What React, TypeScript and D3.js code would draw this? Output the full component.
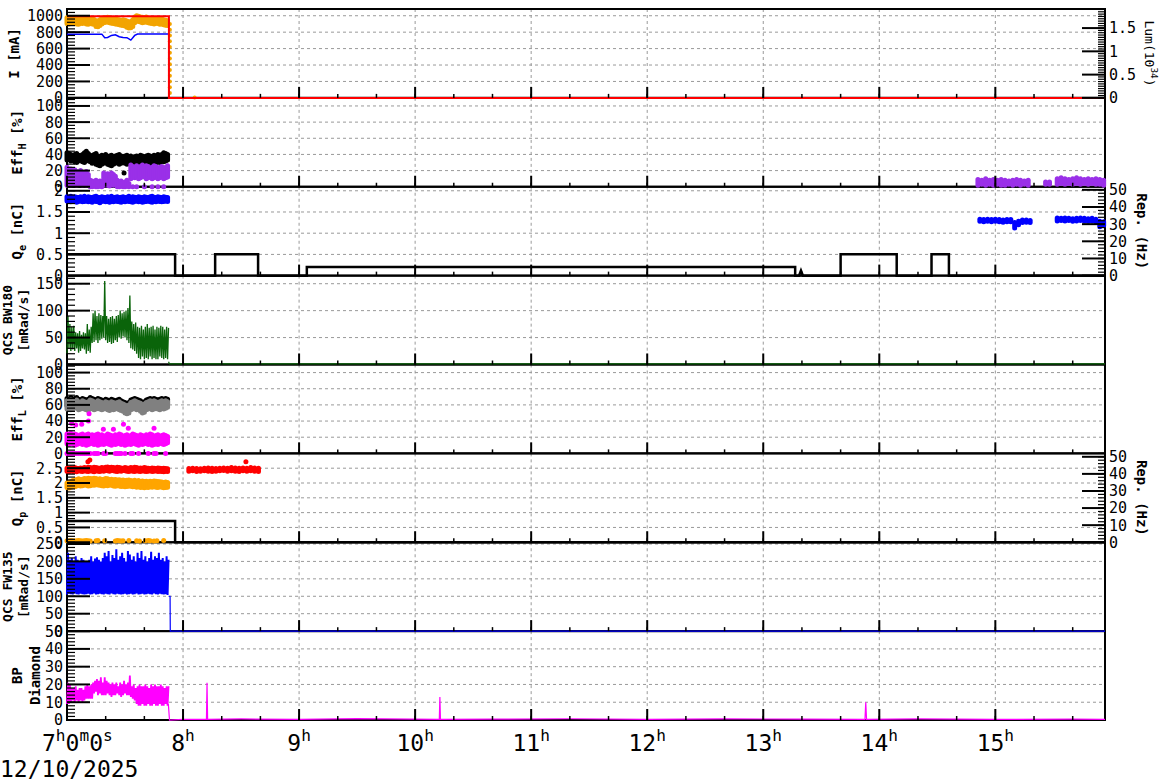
import React, { useEffect, useRef } from "react";
import * as d3 from "d3";

type Seg = { t: string; sub?: boolean; sup?: boolean };
type Axis = { dom: [number, number]; ticks: number[]; minor: number; title: Seg[]; bold: boolean };
type Panel = {
  dom: [number, number];
  ticks: number[];
  minor: number;
  title: Seg[][];
  titleX: number[];
  titleSize: number;
  right?: Axis;
};

const W = 1172;
const H = 782;
const X0 = 67;
const X1 = 1105;
const Y0 = 9;
const Y1 = 720;
const T_END = 536.7; // minutes after 7:00:00

// x axis
const hourTicks = [0, 60, 120, 180, 240, 300, 360, 420, 480];
const hourLabels = ["8", "9", "10", "11", "12", "13", "14", "15"];

// samples during beam (minutes after 7:00)
const beamMin = [
  0, 1, 2, 3, 4, 5, 6, 7, 8, 9, 10, 11, 12, 13, 14, 15, 16, 17, 18, 19, 20, 21, 22, 23, 24, 25, 26,
  27, 28, 29, 30, 31, 32, 33, 34, 35, 36, 37, 38, 39, 40, 41, 42, 43, 44, 45, 46, 47, 48, 49, 50, 51, 52,
];

// panel 1: currents
const curOrangeLo = [
  905, 900, 910, 915, 905, 900, 895, 910, 905, 915, 900, 895, 905, 900, 895, 870, 865, 880, 900, 915,
  920, 925, 915, 910, 905, 900, 895, 890, 885, 880, 875, 860, 850, 855, 870, 915, 935, 930, 925, 915,
  920, 925, 915, 910, 905, 900, 910, 905, 895, 900, 890, 885, 880,
];
const curOrangeHi = [
  975, 965, 960, 970, 975, 960, 965, 955, 970, 965, 960, 975, 965, 960, 955, 940, 935, 950, 970, 975,
  970, 980, 975, 965, 970, 960, 955, 950, 945, 950, 945, 935, 925, 930, 950, 985, 1000, 995, 985, 980,
  975, 985, 970, 965, 970, 960, 965, 960, 955, 960, 950, 945, 940,
];
const orangeDropT = [53.2, 53.2, 53.2, 53.2, 53.2, 53.2, 53.2, 53.2, 53.2, 53.2, 53.2, 53.2, 53.2, 66];
const orangeDropV = [900, 830, 760, 690, 620, 550, 480, 410, 340, 270, 200, 130, 60, 5];
const redT = [0, 52.7, 52.7, 536.7];
const redV = [995, 995, 0, 0];
const blueCurT = [0, 18, 19.5, 21, 23, 25, 27, 29, 31, 33, 35, 36.5, 52.6, 52.7, 536.7];
const blueCurV = [776, 776, 732, 736, 760, 768, 745, 735, 733, 703, 760, 778, 778, 0, 0];

// panel 2: Eff_H
const effHBlackLo = [
  33, 34, 32, 33, 31, 30, 32, 33, 31, 30, 32, 33, 31, 29, 30, 28, 27, 26, 28, 29, 30, 28, 27, 26, 28,
  29, 30, 28, 29, 30, 29, 28, 30, 31, 29, 28, 30, 29, 28, 30, 29, 31, 30, 29, 28, 30, 29, 31, 30, 32,
  31, 32, 33,
];
const effHBlackHi = [
  42, 41, 40, 38, 40, 41, 39, 38, 40, 42, 44, 41, 39, 38, 40, 41, 38, 37, 39, 38, 40, 37, 38, 39, 37,
  38, 39, 40, 38, 37, 38, 39, 37, 38, 36, 37, 38, 37, 39, 38, 37, 38, 39, 38, 37, 39, 38, 40, 39, 40,
  42, 41, 40,
];
const effHPurpleLo = [
  2, 3, 2, 4, 3, 2, 3, 4, 2, 3, 2, 3, 0, 0, 1, 0, 0, 1, 0, 2, 3, 2, 1, 3, 2, 3, 0, 0, 1, 0, 0, 1, 0, 10,
  12, 11, 12, 10, 11, 13, 12, 10, 11, 12, 10, 11, 12, 10, 11, 12, 10, 11, 12,
];
const effHPurpleHi = [
  24, 20, 22, 18, 21, 19, 17, 20, 18, 16, 19, 15, 8, 7, 6, 8, 5, 7, 6, 17, 15, 16, 14, 17, 15, 13, 8, 6,
  7, 5, 6, 8, 4, 27, 25, 24, 26, 23, 25, 27, 24, 26, 25, 23, 24, 26, 25, 22, 24, 25, 23, 24, 26,
];
const purpleZeroT = [34, 36, 40, 44, 47, 50];
const purpleZeroV = [0, 0, 0, 0, 0, 0];
const lateT = [
  471, 473, 475, 477, 479, 481, 483, 485, 487, 489, 491, 493, 495, 497, 506, 508, 512, 514, 516, 518,
  520, 522, 524, 526, 528, 530, 532, 534, 536,
];
const effHLateLo = [2, 3, 2, 3, 2, 3, 2, 2, 3, 2, 3, 2, 3, 2, 3, 3, 3, 4, 3, 4, 3, 4, 3, 4, 3, 4, 3, 3, 2];
const effHLateHi = [9, 8, 10, 8, 9, 8, 9, 8, 7, 8, 9, 8, 7, 8, 6, 6, 10, 11, 10, 9, 10, 11, 10, 9, 10, 9, 10, 9, 8];
const effHBlackOutT = [29.5];
const effHBlackOutV = [17];

// panel 3: Q_e and rep rate
const qeLo = [
  1.76, 1.75, 1.74, 1.76, 1.75, 1.73, 1.75, 1.76, 1.74, 1.75, 1.76, 1.74, 1.75, 1.73, 1.76, 1.75, 1.74,
  1.72, 1.75, 1.76, 1.74, 1.75, 1.73, 1.75, 1.74, 1.76, 1.75, 1.74, 1.73, 1.75, 1.74, 1.76, 1.75, 1.74,
  1.73, 1.75, 1.76, 1.74, 1.75, 1.73, 1.74, 1.75, 1.76, 1.74, 1.73, 1.75, 1.74, 1.76, 1.75, 1.74, 1.75,
  1.76, 1.75,
];
const qeHi = [
  1.86, 1.85, 1.87, 1.84, 1.86, 1.85, 1.84, 1.86, 1.85, 1.87, 1.84, 1.86, 1.85, 1.84, 1.86, 1.87, 1.85,
  1.84, 1.86, 1.85, 1.84, 1.86, 1.85, 1.87, 1.84, 1.85, 1.86, 1.84, 1.85, 1.86, 1.84, 1.85, 1.87, 1.84,
  1.86, 1.85, 1.84, 1.86, 1.85, 1.84, 1.86, 1.85, 1.84, 1.86, 1.87, 1.85, 1.84, 1.86, 1.85, 1.84, 1.86,
  1.85, 1.84,
];
const qeLateT = [
  472, 474, 476, 478, 480, 482, 484, 486, 488, 490, 492, 494, 496, 498, 512, 514, 516, 518, 520, 522,
  524, 526, 528, 530, 532, 534, 536,
];
const qeLateLo = [
  1.28, 1.27, 1.28, 1.27, 1.28, 1.27, 1.26, 1.27, 1.27, 1.12, 1.2, 1.25, 1.26, 1.25, 1.29, 1.3, 1.29,
  1.3, 1.28, 1.29, 1.3, 1.29, 1.28, 1.29, 1.27, 1.15, 1.18,
];
const qeLateHi = [
  1.33, 1.32, 1.33, 1.32, 1.33, 1.32, 1.31, 1.32, 1.32, 1.25, 1.28, 1.31, 1.31, 1.3, 1.36, 1.35, 1.36,
  1.35, 1.34, 1.35, 1.36, 1.35, 1.34, 1.35, 1.33, 1.28, 1.27,
];
const repET = [
  0, 55.9, 55.9, 76.6, 76.6, 98.8, 98.8, 124, 124, 376.5, 376.5, 378.5, 379.5, 380.5, 400, 400, 429,
  429, 447, 447, 456, 456, 536.7,
];
const repEV = [12.5, 12.5, 0, 0, 12.5, 12.5, 0, 0, 5, 5, 0, 0, 3, 0, 0, 12.5, 12.5, 0, 0, 12.5, 12.5, 0, 0];

// panel 4: QCS BW180
const bwLo = [
  20, 30, 25, 28, 25, 30, 22, 25, 30, 28, 20, 25, 22, 40, 42, 45, 40, 45, 48, 50, 45, 40, 42, 38, 40,
  45, 42, 50, 48, 52, 50, 45, 40, 30, 28, 25, 20, 12, 10, 15, 10, 12, 10, 15, 10, 12, 10, 10, 15, 12,
  10, 12, 10,
];
const bwHi = [
  90, 75, 70, 72, 60, 58, 62, 55, 60, 58, 75, 65, 70, 95, 100, 90, 95, 92, 90, 155, 90, 85, 88, 90, 85,
  90, 92, 100, 95, 98, 100, 105, 128, 80, 75, 78, 70, 68, 72, 65, 70, 75, 68, 70, 72, 65, 70, 68, 72,
  70, 65, 70, 68,
];
const bwTailT = [52.5, 53, 536.7];
const bwTailV = [5, 1, 1];

// panel 5: Eff_L
const effLBlackLo = [
  59, 60, 58, 59, 61, 60, 58, 59, 60, 59, 58, 57, 59, 60, 58, 59, 60, 59, 58, 59, 60, 58, 57, 59, 58,
  59, 60, 58, 57, 56, 54, 53, 54, 58, 59, 60, 58, 59, 56, 54, 55, 58, 59, 60, 58, 59, 60, 59, 58, 60,
  59, 60, 61,
];
const effLBlackHi = [
  68, 67, 69, 66, 68, 69, 67, 66, 68, 67, 66, 67, 69, 68, 67, 66, 68, 67, 66, 65, 67, 66, 65, 67, 66,
  65, 66, 67, 65, 64, 63, 61, 63, 66, 67, 68, 67, 66, 65, 63, 64, 66, 67, 68, 67, 68, 67, 66, 67, 68,
  67, 68, 67,
];
const effLGrayLo = [
  55, 56, 54, 55, 57, 56, 54, 55, 56, 55, 54, 53, 55, 56, 54, 55, 56, 55, 54, 55, 56, 54, 53, 55, 54,
  55, 56, 54, 53, 52, 50, 49, 50, 54, 55, 56, 54, 55, 52, 50, 51, 54, 55, 56, 54, 55, 56, 55, 54, 56,
  55, 56, 57,
];
const effLGrayHi = [
  65, 64, 66, 63, 65, 66, 64, 63, 65, 64, 63, 64, 66, 65, 64, 63, 65, 64, 63, 62, 64, 63, 62, 64, 63,
  62, 63, 64, 62, 61, 60, 58, 60, 63, 64, 65, 64, 63, 62, 60, 61, 63, 64, 65, 64, 65, 64, 63, 64, 65,
  64, 65, 64,
];
const effLMagLo = [
  12, 11, 13, 12, 10, 11, 12, 13, 11, 12, 10, 11, 12, 13, 11, 12, 10, 11, 12, 11, 13, 12, 11, 10, 12,
  11, 12, 13, 11, 12, 10, 11, 12, 11, 13, 12, 11, 10, 12, 11, 12, 13, 11, 12, 10, 11, 12, 11, 13, 12,
  11, 12, 13,
];
const effLMagHi = [
  24, 23, 25, 22, 24, 23, 21, 23, 24, 22, 23, 24, 22, 23, 21, 23, 24, 22, 23, 21, 22, 24, 23, 22, 21,
  23, 22, 24, 23, 21, 22, 23, 21, 22, 24, 23, 22, 21, 23, 22, 21, 23, 22, 24, 23, 21, 22, 23, 21, 22,
  23, 22, 21,
];
const effLMagOutT = [2.4, 4.5, 7.6, 11.1, 11.4, 18.8, 24, 29.2, 31.7, 45];
const effLMagOutV = [37, 35, 36, 40, 49, 30, 30, 36, 31, 31];
const effLMagZeroT = [
  0, 1, 2, 3, 4, 5, 6, 7, 8, 9, 10, 11, 12, 14, 15, 16, 19, 20, 25, 26, 27, 28, 30, 33, 34, 37, 42, 45,
  46, 51,
];
const effLMagZeroV = [
  0, 0, 0, 0, 0, 0, 0, 0, 0, 0, 0, 0, 0, 0, 0, 0, 0, 0, 0, 0, 0, 0, 0, 0, 0, 0, 0, 0, 0, 0,
];

// panel 6: Q_p and rep rate
const qpRedLo = [
  2.4, 2.38, 2.41, 2.39, 2.4, 2.38, 2.41, 2.4, 2.39, 2.41, 2.4, 2.39, 2.41, 2.4, 2.38, 2.41, 2.4, 2.39,
  2.41, 2.4, 2.42, 2.41, 2.4, 2.42, 2.41, 2.4, 2.39, 2.41, 2.4, 2.42, 2.41, 2.4, 2.39, 2.41, 2.4, 2.39,
  2.41, 2.4, 2.39, 2.41, 2.4, 2.39, 2.4, 2.41, 2.39, 2.4, 2.41, 2.39, 2.4, 2.39, 2.38, 2.4, 2.39,
];
const qpRedHi = [
  2.5, 2.49, 2.51, 2.5, 2.52, 2.5, 2.49, 2.51, 2.5, 2.52, 2.51, 2.53, 2.52, 2.51, 2.53, 2.52, 2.51, 2.5,
  2.52, 2.51, 2.53, 2.54, 2.52, 2.53, 2.52, 2.51, 2.53, 2.52, 2.51, 2.5, 2.52, 2.51, 2.5, 2.52, 2.51,
  2.53, 2.52, 2.5, 2.51, 2.5, 2.52, 2.51, 2.5, 2.49, 2.51, 2.5, 2.49, 2.51, 2.5, 2.49, 2.5, 2.49, 2.48,
];
const qpRedOutT = [10.8, 11.8, 92.5];
const qpRedOutV = [2.72, 2.78, 2.72];
const qpRed2T = [63, 65, 67, 69, 71, 73, 75, 77, 79, 81, 83, 85, 87, 89, 91, 93, 95, 97, 99];
const qpRed2Lo = [
  2.4, 2.41, 2.39, 2.4, 2.41, 2.4, 2.39, 2.4, 2.41, 2.42, 2.4, 2.41, 2.4, 2.39, 2.41, 2.4, 2.41, 2.4, 2.39,
];
const qpRed2Hi = [
  2.49, 2.5, 2.49, 2.48, 2.5, 2.51, 2.5, 2.49, 2.5, 2.51, 2.5, 2.52, 2.51, 2.5, 2.51, 2.5, 2.52, 2.51, 2.5,
];
const qpOrangeLo = [
  1.85, 1.83, 1.86, 1.88, 1.87, 1.9, 1.92, 1.9, 1.91, 1.93, 1.92, 1.9, 1.91, 1.93, 1.92, 1.94, 1.93,
  1.92, 1.91, 1.9, 1.92, 1.91, 1.93, 1.92, 1.9, 1.89, 1.91, 1.9, 1.88, 1.89, 1.87, 1.88, 1.9, 1.89,
  1.87, 1.88, 1.86, 1.87, 1.85, 1.86, 1.84, 1.86, 1.85, 1.87, 1.86, 1.88, 1.86, 1.85, 1.87, 1.86, 1.84,
  1.85, 1.86,
];
const qpOrangeHi = [
  2.0, 2.02, 2.05, 2.08, 2.1, 2.12, 2.14, 2.12, 2.13, 2.15, 2.14, 2.16, 2.15, 2.14, 2.16, 2.15, 2.13,
  2.14, 2.12, 2.13, 2.15, 2.14, 2.12, 2.13, 2.11, 2.12, 2.1, 2.11, 2.09, 2.1, 2.08, 2.09, 2.1, 2.08,
  2.07, 2.09, 2.06, 2.08, 2.05, 2.07, 2.05, 2.06, 2.04, 2.06, 2.05, 2.07, 2.06, 2.05, 2.04, 2.03, 2.02,
  2.03, 2.02,
];
const qpOrangeLowT = [
  0, 1, 2, 3, 4, 5, 6, 7, 8, 9, 10, 11, 12, 15, 16, 19.5, 25, 26, 27, 28, 29, 32, 36, 37.5, 40.5, 42,
  43, 45, 46.5, 50,
];
const qpOrangeLowV = [
  0.05, 0.04, 0.06, 0.05, 0.04, 0.05, 0.06, 0.05, 0.04, 0.05, 0.06, 0.05, 0.04, 0.05, 0.06, 0.05, 0.04,
  0.06, 0.05, 0.04, 0.05, 0.06, 0.05, 0.04, 0.05, 0.06, 0.05, 0.04, 0.05, 0.06,
];
const repPT = [0, 55.9, 55.9, 536.7];
const repPV = [12.5, 12.5, 0, 0];

// panel 7: QCS FW135
const fwLo = [
  105, 107, 106, 105, 108, 106, 105, 107, 106, 105, 106, 107, 105, 106, 108, 105, 106, 107, 106, 105,
  107, 106, 105, 108, 106, 105, 107, 106, 105, 106, 107, 105, 106, 107, 105, 106, 108, 105, 106, 107,
  105, 106, 107, 106, 105, 108, 106, 105, 107, 106, 105, 106, 104,
];
const fwHi = [
  225, 205, 210, 200, 215, 205, 200, 210, 205, 200, 198, 205, 215, 200, 208, 212, 205, 200, 210, 225,
  215, 230, 200, 218, 210, 235, 205, 215, 225, 210, 200, 230, 220, 205, 215, 200, 225, 210, 230, 205,
  215, 200, 210, 228, 205, 215, 210, 225, 205, 210, 200, 215, 205,
];
const fwTailT = [52.5, 53.3, 53.4, 536.7];
const fwTailV = [100, 100, 0, 0];

// panel 8: BP diamond
const bpLo = [
  9, 9, 10, 11, 10, 11, 10, 11, 10, 11, 12, 12, 12, 12, 15, 16, 14, 15, 14, 14, 14, 15, 14, 13, 14, 14,
  15, 14, 13, 14, 15, 14, 14, 13, 12, 11, 9, 8, 8, 9, 8, 8, 9, 8, 8, 9, 8, 8, 9, 8, 8, 9, 8,
];
const bpHi = [
  21, 20, 18, 18, 19, 17, 18, 18, 17, 19, 20, 19, 20, 21, 22, 23, 22, 24, 21, 24, 22, 21, 20, 21, 20,
  21, 19, 21, 20, 22, 20, 21, 25, 19, 20, 18, 19, 20, 19, 19, 20, 19, 18, 20, 19, 20, 19, 19, 20, 19,
  18, 19, 19,
];
const bpTailT = [
  52.4, 53, 60, 72.1, 72.4, 72.7, 90, 120, 150, 192.5, 192.8, 193.1, 220, 260, 300, 340, 380, 412.6,
  413, 413.4, 440, 480, 520, 536.7,
];
const bpTailV = [9, 0, 0.4, 0.4, 21, 0.4, 0.6, 0.3, 0.8, 0.4, 13, 0.4, 0.5, 0.7, 0.3, 0.6, 0.5, 0.4, 10, 0.4, 0.6, 0.3, 0.5, 0.4];

const rep: Seg[] = [{ t: "Rep. (Hz)" }];

const panels: Panel[] = [
  {
    dom: [0, 1082], ticks: [0, 200, 400, 600, 800, 1000], minor: 40,
    title: [[{ t: "I [mA]" }]], titleX: [19], titleSize: 14,
    right: { dom: [0, 1.91], ticks: [0, 0.5, 1, 1.5], minor: 0.05, title: [{ t: "Lum(10" }, { t: "34", sup: true }, { t: ")" }], bold: false },
  },
  { dom: [0, 110], ticks: [0, 20, 40, 60, 80, 100], minor: 4, title: [[{ t: "Eff" }, { t: "H", sub: true }, { t: " [%]" }]], titleX: [22], titleSize: 14 },
  {
    dom: [0, 2.095], ticks: [0, 0.5, 1, 1.5, 2], minor: 0.1,
    title: [[{ t: "Q" }, { t: "e", sub: true }, { t: " [nC]" }]], titleX: [22], titleSize: 14,
    right: { dom: [0, 51.8], ticks: [0, 10, 20, 30, 40, 50], minor: 2, title: rep, bold: true },
  },
  { dom: [0, 165], ticks: [0, 50, 100, 150], minor: 10, title: [[{ t: "QCS BW180" }], [{ t: "[mRad/s]" }]], titleX: [12, 28], titleSize: 13 },
  { dom: [0, 110], ticks: [0, 20, 40, 60, 80, 100], minor: 4, title: [[{ t: "Eff" }, { t: "L", sub: true }, { t: " [%]" }]], titleX: [22], titleSize: 14 },
  {
    dom: [0, 3.0], ticks: [0, 0.5, 1, 1.5, 2, 2.5], minor: 0.1,
    title: [[{ t: "Q" }, { t: "p", sub: true }, { t: " [nC]" }]], titleX: [22], titleSize: 14,
    right: { dom: [0, 52], ticks: [0, 10, 20, 30, 40, 50], minor: 2, title: rep, bold: true },
  },
  { dom: [0, 255], ticks: [0, 50, 100, 150, 200, 250], minor: 10, title: [[{ t: "QCS FW135" }], [{ t: "[mRad/s]" }]], titleX: [12, 28], titleSize: 13 },
  { dom: [0, 50], ticks: [0, 10, 20, 30, 40, 50], minor: 2, title: [[{ t: "BP" }], [{ t: "Diamond" }]], titleX: [22, 40], titleSize: 14 },
];

const MONO = "'DejaVu Sans Mono', monospace";

type G = d3.Selection<SVGGElement, unknown, null, undefined>;

function addSegs(text: d3.Selection<SVGTextElement, unknown, null, undefined>, segs: Seg[], fs: number, small = 0.72, raise = 0.45) {
  let shift = 0;
  segs.forEach((s) => {
    const target = s.sub ? fs * 0.3 : s.sup ? -fs * raise : 0;
    text
      .append("tspan")
      .attr("dy", target - shift)
      .attr("font-size", s.sub || s.sup ? fs * small : fs)
      .text(s.t);
    shift = target;
  });
}

export default function App() {
  const ref = useRef<SVGSVGElement | null>(null);

  useEffect(() => {
    const svg = d3.select(ref.current);
    svg.selectAll("*").remove();
    svg.append("rect").attr("width", W).attr("height", H).attr("fill", "#fff");

    // layers: grid below frames below data below axes
    const gridLayer = svg.append("g");
    const frameLayer = svg.append("g");
    const dataLayer = svg.append("g");
    const axisLayer = svg.append("g");

    const x = d3.scaleLinear().domain([0, T_END]).range([X0, X1]);
    const ph = (Y1 - Y0) / panels.length;

    const band = (g: G, y: d3.ScaleLinear<number, number>, t: number[], lo: number[], hi: number[], color: string, w = 5) => {
      g.append("g")
        .selectAll("line")
        .data(t)
        .join("line")
        .attr("x1", (d) => x(d))
        .attr("x2", (d) => x(d))
        .attr("y1", (_, i) => y(lo[i]))
        .attr("y2", (_, i) => y(hi[i]) - 0.01)
        .attr("stroke", color)
        .attr("stroke-width", w)
        .attr("stroke-linecap", "round");
    };
    const dots = (g: G, y: d3.ScaleLinear<number, number>, t: number[], v: number[], color: string, r = 2.5) => {
      g.append("g")
        .selectAll("circle")
        .data(t)
        .join("circle")
        .attr("cx", (d) => x(d))
        .attr("cy", (_, i) => y(v[i]))
        .attr("r", r)
        .attr("fill", color);
    };
    const line = (g: G, y: d3.ScaleLinear<number, number>, t: number[], v: number[], color: string, w = 1.5) => {
      const ln = d3.line<number>().x((d) => x(d)).y((_, i) => y(v[i]));
      g.append("path").attr("d", ln(t)).attr("fill", "none").attr("stroke", color).attr("stroke-width", w);
    };
    const zig = (g: G, y: d3.ScaleLinear<number, number>, t: number[], lo: number[], hi: number[], color: string, w = 1) => {
      const pts: [number, number][] = [];
      t.forEach((d, i) => {
        pts.push([x(d), y(lo[i])]);
        pts.push([x(d + 0.5), y(hi[i])]);
      });
      g.append("path").attr("d", d3.line()(pts)).attr("fill", "none").attr("stroke", color)
        .attr("stroke-width", w).attr("stroke-linejoin", "bevel");
    };

    panels.forEach((p, k) => {
      const top = Y0 + k * ph;
      const bot = top + ph;
      const y = d3.scaleLinear().domain(p.dom).range([bot, top]);
      const yr = p.right ? d3.scaleLinear().domain(p.right.dom).range([bot, top]) : null;

      // grid
      gridLayer.append("g")
        .selectAll("line")
        .data(p.ticks.filter((v) => v > p.dom[0] && y(v) > top + 1))
        .join("line")
        .attr("x1", X0).attr("x2", X1)
        .attr("y1", (d) => y(d)).attr("y2", (d) => y(d))
        .attr("stroke", "#999").attr("stroke-dasharray", "3,3").attr("stroke-width", 1);
      gridLayer.append("g")
        .selectAll("line")
        .data(hourTicks.slice(1))
        .join("line")
        .attr("x1", (d) => x(d)).attr("x2", (d) => x(d))
        .attr("y1", top).attr("y2", bot)
        .attr("stroke", "#999").attr("stroke-dasharray", "3,3").attr("stroke-width", 1);

      // frame
      frameLayer.append("rect")
        .attr("x", X0).attr("y", top).attr("width", X1 - X0).attr("height", ph)
        .attr("fill", "none").attr("stroke", "#000").attr("stroke-width", 2);

      // data
      const g = dataLayer.append("g");
      if (k === 0) {
        band(g, y, beamMin, curOrangeLo, curOrangeHi, "#f2a400");
        dots(g, y, orangeDropT, orangeDropV, "#f2a400", 2);
        line(g, y, blueCurT, blueCurV, "#0000ff", 1.5);
        line(g, y, redT, redV, "#ff0000", 2);
      } else if (k === 1) {
        band(g, y, beamMin, effHBlackLo, effHBlackHi, "#000");
        dots(g, y, effHBlackOutT, effHBlackOutV, "#000");
        band(g, y, beamMin, effHPurpleLo, effHPurpleHi, "#9a30e8");
        dots(g, y, purpleZeroT, purpleZeroV, "#9a30e8");
        band(g, y, lateT, effHLateLo, effHLateHi, "#9a30e8");
      } else if (k === 2 && yr) {
        band(g, y, beamMin, qeLo, qeHi, "#0000ff");
        band(g, y, qeLateT, qeLateLo, qeLateHi, "#0000ff");
        line(g, yr, repET, repEV, "#000", 2.5);
      } else if (k === 3) {
        zig(g, y, beamMin, bwLo, bwHi, "#0a640a", 1.3);
        line(g, y, bwTailT, bwTailV, "#0a640a", 1.2);
      } else if (k === 4) {
        band(g, y, beamMin, effLBlackLo, effLBlackHi, "#000");
        band(g, y, beamMin, effLGrayLo, effLGrayHi, "#808080");
        band(g, y, beamMin, effLMagLo, effLMagHi, "#ff00ff");
        dots(g, y, effLMagOutT, effLMagOutV, "#ff00ff");
        dots(g, y, effLMagZeroT, effLMagZeroV, "#ff00ff");
      } else if (k === 5 && yr) {
        band(g, y, beamMin, qpRedLo, qpRedHi, "#ff0000");
        band(g, y, qpRed2T, qpRed2Lo, qpRed2Hi, "#ff0000");
        dots(g, y, qpRedOutT, qpRedOutV, "#ff0000");
        band(g, y, beamMin, qpOrangeLo, qpOrangeHi, "#ffa500");
        dots(g, y, qpOrangeLowT, qpOrangeLowV, "#ffa500");
        line(g, yr, repPT, repPV, "#000", 2.5);
      } else if (k === 6) {
        zig(g, y, beamMin, fwLo, fwHi, "#0000ff", 2);
        line(g, y, fwTailT, fwTailV, "#0000ff", 1.2);
      } else if (k === 7) {
        zig(g, y, beamMin, bpLo, bpHi, "#ff00ff", 1.8);
        line(g, y, bpTailT, bpTailV, "#ff00ff", 1.2);
      }

      const a = axisLayer.append("g");

      // left axis ticks
      const minorL = d3.range(p.dom[0], p.dom[1] + 1e-9, p.minor);
      a.append("g").selectAll("line").data(minorL).join("line")
        .attr("x1", X0).attr("x2", X0 + 8)
        .attr("y1", (d) => y(d)).attr("y2", (d) => y(d))
        .attr("stroke", "#000").attr("stroke-width", 1.2);
      a.append("g").selectAll("line").data(p.ticks).join("line")
        .attr("x1", X0).attr("x2", X0 + 23)
        .attr("y1", (d) => y(d)).attr("y2", (d) => y(d))
        .attr("stroke", "#000").attr("stroke-width", 2);
      a.append("g").selectAll("text").data(p.ticks).join("text")
        .attr("x", X0 - 4).attr("y", (d) => y(d)).attr("dy", "0.36em")
        .attr("text-anchor", "end").attr("font-family", MONO).attr("font-size", 15)
        .text((d) => String(d));

      // bottom time ticks
      const minorT = d3.range(0, T_END, 20);
      a.append("g").selectAll("line").data(minorT).join("line")
        .attr("x1", (d) => x(d)).attr("x2", (d) => x(d))
        .attr("y1", bot).attr("y2", bot - 4)
        .attr("stroke", "#000").attr("stroke-width", 1.5);
      a.append("g").selectAll("line").data(hourTicks).join("line")
        .attr("x1", (d) => x(d)).attr("x2", (d) => x(d))
        .attr("y1", bot).attr("y2", bot - 11)
        .attr("stroke", "#000").attr("stroke-width", 2);

      // left title
      p.title.forEach((segs, li) => {
        const tx = a.append("text")
          .attr("transform", `translate(${p.titleX[li]},${(top + bot) / 2}) rotate(-90)`)
          .attr("text-anchor", "middle").attr("dy", "0.36em")
          .attr("font-family", MONO).attr("font-weight", "bold");
        addSegs(tx, segs, p.titleSize);
      });

      // right axis
      if (p.right && yr) {
        const r = p.right;
        const minorR = d3.range(r.dom[0], r.dom[1] + 1e-9, r.minor);
        a.append("g").selectAll("line").data(minorR).join("line")
          .attr("x1", X1).attr("x2", X1 - 7)
          .attr("y1", (d) => yr(d)).attr("y2", (d) => yr(d))
          .attr("stroke", "#000").attr("stroke-width", 1.2);
        a.append("g").selectAll("line").data(r.ticks).join("line")
          .attr("x1", X1).attr("x2", X1 - 23)
          .attr("y1", (d) => yr(d)).attr("y2", (d) => yr(d))
          .attr("stroke", "#000").attr("stroke-width", 2);
        a.append("g").selectAll("text").data(r.ticks).join("text")
          .attr("x", X1 + 4).attr("y", (d) => yr(d)).attr("dy", "0.36em")
          .attr("font-family", MONO).attr("font-size", 15)
          .text((d) => String(d));
        const tx = a.append("text")
          .attr("transform", `translate(${r.bold ? 1137 : 1145},${(top + bot) / 2}) rotate(90)`)
          .attr("text-anchor", "middle").attr("dy", "0.36em")
          .attr("font-family", MONO).attr("font-weight", r.bold ? "bold" : "normal");
        addSegs(tx, r.title, r.bold ? 14 : 13);
      }
    });

    // time labels
    const first = axisLayer.append("text")
      .attr("x", x(0) - 25).attr("y", 751)
      .attr("font-family", MONO);
    addSegs(first, [{ t: "7" }, { t: "h", sup: true }, { t: "0" }, { t: "m", sup: true }, { t: "0" }, { t: "s", sup: true }], 23, 0.7, 0.43);
    hourLabels.forEach((lab, i) => {
      const tx = axisLayer.append("text")
        .attr("x", x(hourTicks[i + 1])).attr("y", 751)
        .attr("text-anchor", "middle").attr("font-family", MONO);
      addSegs(tx, [{ t: lab }, { t: "h", sup: true }], 23, 0.7, 0.43);
    });
    axisLayer.append("text")
      .attr("x", 0).attr("y", 777)
      .attr("font-family", MONO).attr("font-size", 23)
      .text("12/10/2025");
  }, []);

  return (
    <svg
      ref={ref}
      width={W}
      height={H}
      style={{ position: "absolute", left: 0, top: 0 }}
    />
  );
}
